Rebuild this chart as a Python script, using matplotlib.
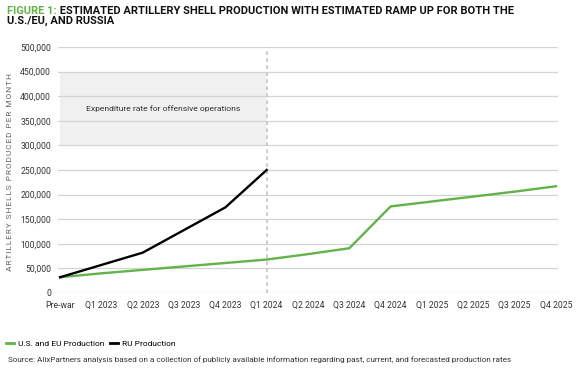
import matplotlib
matplotlib.use('Agg')
import matplotlib.pyplot as plt
from matplotlib.lines import Line2D

plt.rcParams['font.family'] = ['Roboto', 'DejaVu Sans']

# Categorias e valores
quarters = ['Pre-war', 'Q1 2023', 'Q2 2023', 'Q3 2023', 'Q4 2023', 'Q1 2024',
            'Q2 2024', 'Q3 2024', 'Q4 2024', 'Q1 2025', 'Q2 2025', 'Q3 2025', 'Q4 2025']
us_eu = [32000, 40000, 47000, 54000, 61000, 68000,
         79000, 91000, 176000, 186000, 196000, 206000, 217000]
ru = [32000, 57000, 82000, 128000, 174000, 250000]
yticks = list(range(0, 500001, 50000))
band_low, band_high = 300000, 450000
band_end = 'Q1 2024'

green = '#62b34a'
grid_c = '#d4d4d4'

fig = plt.figure(figsize=(5.79, 3.69), dpi=100)
ax = fig.add_axes([58/579, (369-293)/369, 500/579, (293-47)/369])

x = list(range(len(quarters)))
i_end = quarters.index(band_end)

# Faixa cinza e linha tracejada
ax.fill_between([0, i_end], band_low, band_high, color='#f0f0f0', lw=0, zorder=0)
ax.axvline(i_end, color='#c4c4c4', ls=(0, (2.2, 2)), lw=1.2, zorder=1)
ax.text(i_end/2, (band_low+band_high)/2, 'Expenditure rate for offensive operations',
        ha='center', va='center', fontsize=6.1, color='#333333')

ax.plot(x, us_eu, color=green, lw=1.7, zorder=3)
ax.plot(x[:len(ru)], ru, color='black', lw=1.7, zorder=3)

ax.set_xlim(-0.05, len(quarters)-0.95)
ax.set_ylim(0, 500000)
ax.set_yticks(yticks)
ax.set_yticklabels([f'{v:,}' for v in yticks])
ax.set_xticks(x)
ax.set_xticklabels(quarters)
ax.grid(axis='y', color=grid_c, lw=0.9, zorder=0)
ax.set_axisbelow(True)
for s in ax.spines.values():
    s.set_visible(False)
ax.tick_params(length=0, labelsize=6.2, labelcolor='#333333', pad=6)
ax.tick_params(axis='y', pad=5)
ylab = 'ARTILLERY SHELLS PRODUCED PER MONTH'
ax.set_ylabel('\u200a'.join(ylab), fontsize=6.0, color='#666666')
ax.yaxis.set_label_coords(-(58-13)/500, 0.49)

# Título em duas cores
t1 = fig.text(7/579, 1 - 14/369, 'FIGURE 1:', color=green, fontsize=8,
              fontweight='bold', va='baseline')
fig.canvas.draw()
ax.annotate(' ESTIMATED ARTILLERY SHELL PRODUCTION WITH ESTIMATED RAMP UP FOR BOTH THE',
            xy=(1, 0), xycoords=t1, va='bottom', ha='left', fontsize=8,
            fontweight='bold', color='#111111', annotation_clip=False)
fig.text(7/579, 1 - 24/369, 'U.S./EU, AND RUSSIA', color='#111111', fontsize=8,
         fontweight='bold', va='baseline')

# Legenda
handles = [Line2D([], [], color=green, lw=2), Line2D([], [], color='black', lw=2)]
fig.legend(handles, ['U.S. and EU Production', 'RU Production'], loc='center left',
           bbox_to_anchor=(0, 1 - 344/369), ncol=2, frameon=False, fontsize=6,
           handlelength=1.0, handletextpad=0.5, columnspacing=0.6, borderaxespad=0.3)

fig.text(8/579, 1 - 360/369, 'Source: AlixPartners analysis based on a collection of publicly '
         'available information regarding past, current, and forecasted production rates',
         fontsize=5.9, color='#333333', va='center')

fig.savefig('out.png', dpi=100)
